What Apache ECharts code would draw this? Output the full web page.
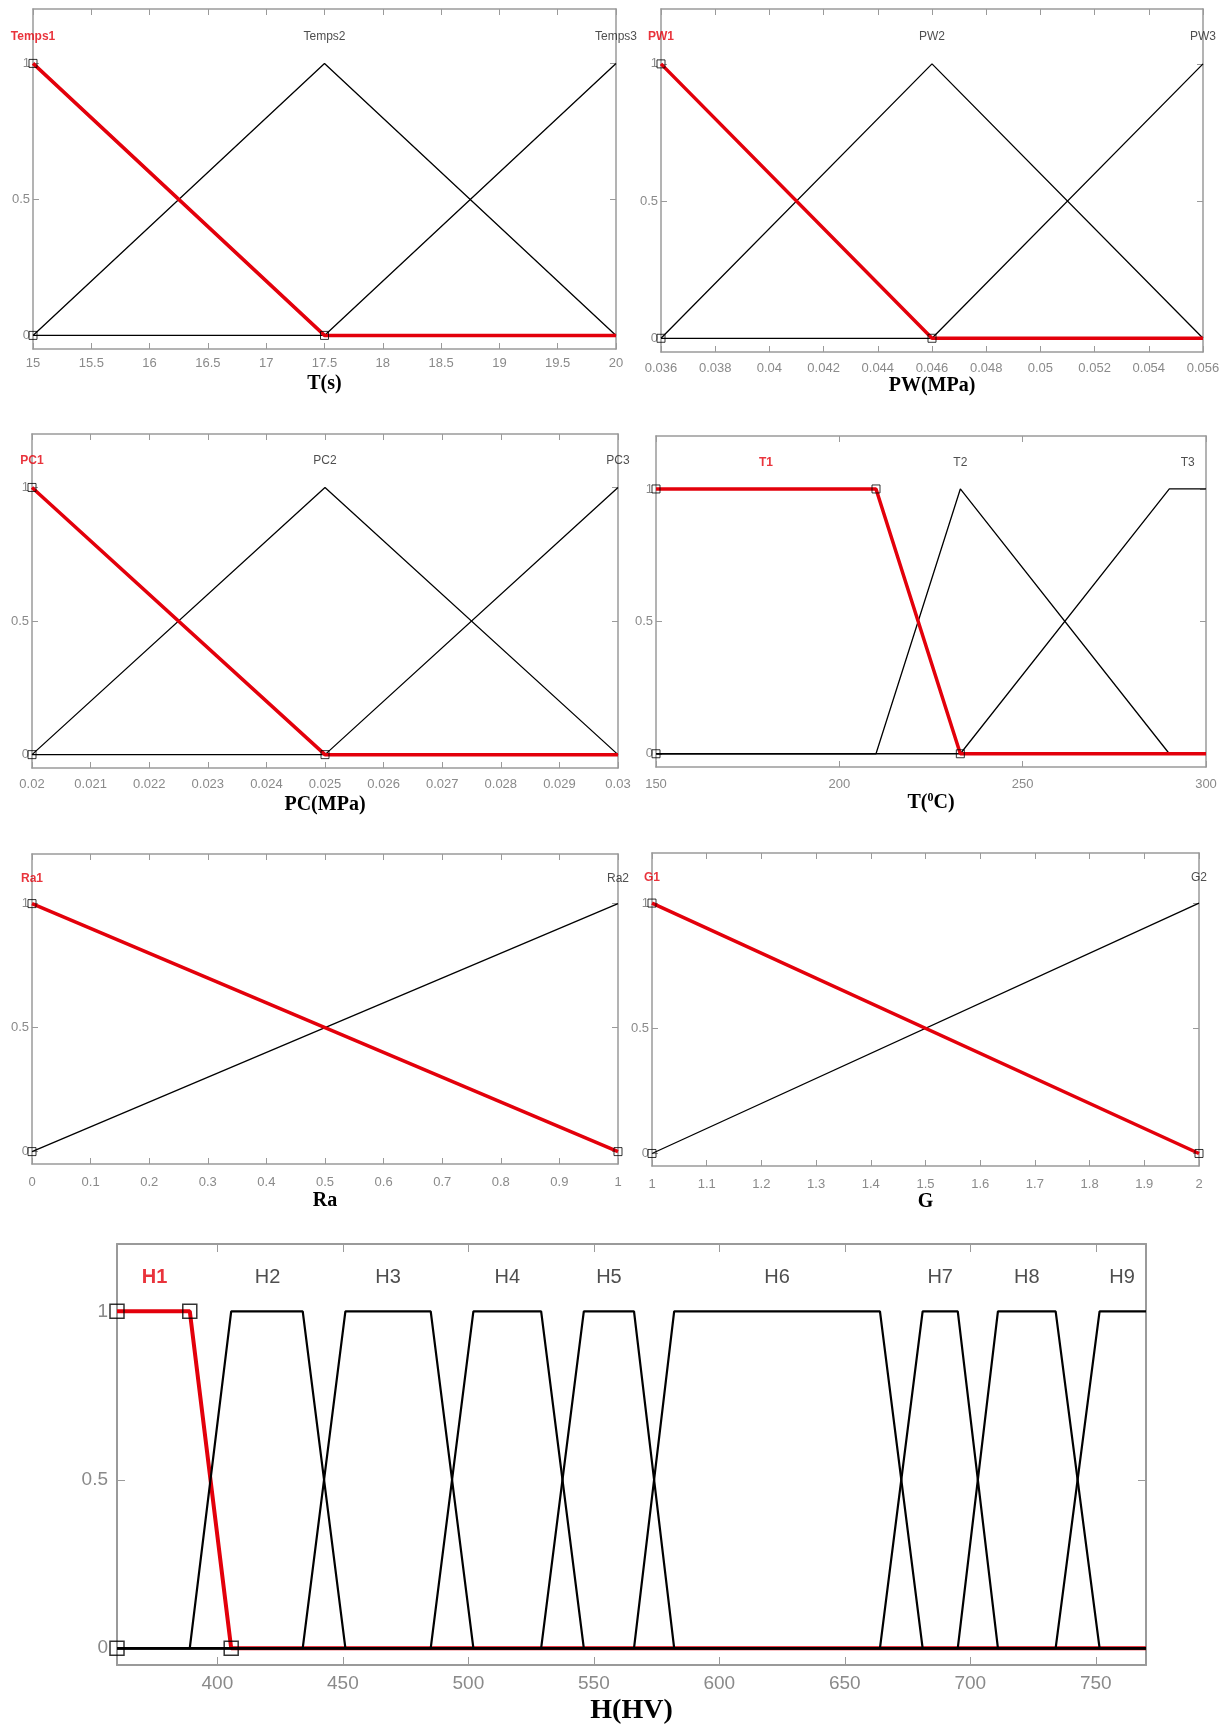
<!DOCTYPE html>
<html><head><meta charset="utf-8">
<script src="https://cdn.jsdelivr.net/npm/echarts@6/dist/echarts.min.js"></script>
<style>html,body{margin:0;padding:0;background:#fff}#c{width:1225px;height:1728px}</style>
</head><body><div id="c"></div>
<script>
// ================= DATA =================
const yTicks = [0, 0.5, 1];
const mfLabelLevel = 1.1;

// Panel 1 : T(s)
const tsX = [15, 17.5, 20];
const temps1 = [1, 0, 0];
const temps2 = [0, 1, 0];
const temps3 = [0, 0, 1];
const tsTicks = [15, 15.5, 16, 16.5, 17, 17.5, 18, 18.5, 19, 19.5, 20];
const tsNames = ['Temps1', 'Temps2', 'Temps3'];
const tsNameX = [15, 17.5, 20];
const tsHandles = [[15, 1], [15, 0], [17.5, 0]];

// Panel 2 : PW(MPa)
const pwX = [0.036, 0.046, 0.056];
const pw1 = [1, 0, 0];
const pw2 = [0, 1, 0];
const pw3 = [0, 0, 1];
const pwTicks = [0.036, 0.038, 0.04, 0.042, 0.044, 0.046, 0.048, 0.05, 0.052, 0.054, 0.056];
const pwNames = ['PW1', 'PW2', 'PW3'];
const pwNameX = [0.036, 0.046, 0.056];
const pwHandles = [[0.036, 1], [0.036, 0], [0.046, 0]];

// Panel 3 : PC(MPa)
const pcX = [0.02, 0.025, 0.03];
const pc1 = [1, 0, 0];
const pc2 = [0, 1, 0];
const pc3 = [0, 0, 1];
const pcTicks = [0.02, 0.021, 0.022, 0.023, 0.024, 0.025, 0.026, 0.027, 0.028, 0.029, 0.03];
const pcNames = ['PC1', 'PC2', 'PC3'];
const pcNameX = [0.02, 0.025, 0.03];
const pcHandles = [[0.02, 1], [0.02, 0], [0.025, 0]];

// Panel 4 : T(oC)
const tcX = [150, 210, 233, 290, 300];
const t1 = [1, 1, 0, 0, 0];
const t2 = [0, 0, 1, 0, 0];
const t3 = [0, 0, 0, 1, 1];
const tcTicks = [150, 200, 250, 300];
const tcNames = ['T1', 'T2', 'T3'];
const tcNameX = [180, 233, 295];
const tcHandles = [[150, 1], [150, 0], [210, 1], [233, 0]];

// Panel 5 : Ra
const raX = [0, 1];
const ra1 = [1, 0];
const ra2 = [0, 1];
const raTicks = [0, 0.1, 0.2, 0.3, 0.4, 0.5, 0.6, 0.7, 0.8, 0.9, 1];
const raNames = ['Ra1', 'Ra2'];
const raNameX = [0, 1];
const raHandles = [[0, 1], [0, 0], [1, 0]];

// Panel 6 : G
const gX = [1, 2];
const g1 = [1, 0];
const g2 = [0, 1];
const gTicks = [1, 1.1, 1.2, 1.3, 1.4, 1.5, 1.6, 1.7, 1.8, 1.9, 2];
const gNames = ['G1', 'G2'];
const gNameX = [1, 2];
const gHandles = [[1, 1], [1, 0], [2, 0]];

// Panel 7 : H(HV)
const hX = [360, 389, 405.5, 434, 451, 485, 502, 529, 546, 566, 582, 664, 681, 695, 711, 734, 751.5, 770];
const h1 = [1, 1, 0, 0, 0, 0, 0, 0, 0, 0, 0, 0, 0, 0, 0, 0, 0, 0];
const h2 = [0, 0, 1, 1, 0, 0, 0, 0, 0, 0, 0, 0, 0, 0, 0, 0, 0, 0];
const h3 = [0, 0, 0, 0, 1, 1, 0, 0, 0, 0, 0, 0, 0, 0, 0, 0, 0, 0];
const h4 = [0, 0, 0, 0, 0, 0, 1, 1, 0, 0, 0, 0, 0, 0, 0, 0, 0, 0];
const h5 = [0, 0, 0, 0, 0, 0, 0, 0, 1, 1, 0, 0, 0, 0, 0, 0, 0, 0];
const h6 = [0, 0, 0, 0, 0, 0, 0, 0, 0, 0, 1, 1, 0, 0, 0, 0, 0, 0];
const h7 = [0, 0, 0, 0, 0, 0, 0, 0, 0, 0, 0, 0, 1, 1, 0, 0, 0, 0];
const h8 = [0, 0, 0, 0, 0, 0, 0, 0, 0, 0, 0, 0, 0, 0, 1, 1, 0, 0];
const h9 = [0, 0, 0, 0, 0, 0, 0, 0, 0, 0, 0, 0, 0, 0, 0, 0, 1, 1];
const hTicks = [400, 450, 500, 550, 600, 650, 700, 750];
const hNames = ['H1', 'H2', 'H3', 'H4', 'H5', 'H6', 'H7', 'H8', 'H9'];
const hNameX = [375, 420, 468, 515.5, 556, 623, 688, 722.5, 760.5];
const hHandles = [[360, 1], [360, 0], [389, 1], [405.5, 0]];

// ================= PANELS (structure only) =================
const panels = [
  { x: tsX, mfs: [temps1, temps2, temps3], min: 15, max: 20, ticks: tsTicks, names: tsNames, nameX: tsNameX, handles: tsHandles, title: 'T(s)' },
  { x: pwX, mfs: [pw1, pw2, pw3], min: 0.036, max: 0.056, ticks: pwTicks, names: pwNames, nameX: pwNameX, handles: pwHandles, title: 'PW(MPa)' },
  { x: pcX, mfs: [pc1, pc2, pc3], min: 0.02, max: 0.03, ticks: pcTicks, names: pcNames, nameX: pcNameX, handles: pcHandles, title: 'PC(MPa)' },
  { x: tcX, mfs: [t1, t2, t3], min: 150, max: 300, ticks: tcTicks, names: tcNames, nameX: tcNameX, handles: tcHandles, title: 'T({sup|0}C)' },
  { x: raX, mfs: [ra1, ra2], min: 0, max: 1, ticks: raTicks, names: raNames, nameX: raNameX, handles: raHandles, title: 'Ra' },
  { x: gX, mfs: [g1, g2], min: 1, max: 2, ticks: gTicks, names: gNames, nameX: gNameX, handles: gHandles, title: 'G' },
  { x: hX, mfs: [h1, h2, h3, h4, h5, h6, h7, h8, h9], min: 360, max: 770, ticks: hTicks, names: hNames, nameX: hNameX, handles: hHandles, title: 'H(HV)' }
];

// ================= LAYOUT / STYLE =================
const layout = [
  { left: 33, top: 9, width: 583, height: 340, gap: 35, lblMargin: 8, big: false },
  { left: 661, top: 9, width: 542, height: 343, gap: 33, lblMargin: 10, big: false },
  { left: 32, top: 434, width: 586, height: 334, gap: 37, lblMargin: 10, big: false },
  { left: 656, top: 436, width: 550, height: 331, gap: 35, lblMargin: 11, big: false },
  { left: 32, top: 854, width: 586, height: 310, gap: 37, lblMargin: 12, big: false },
  { left: 652, top: 853, width: 547, height: 313, gap: 35, lblMargin: 12, big: false },
  { left: 117, top: 1244, width: 1029, height: 421, gap: 46, lblMargin: 9, big: true }
];
const RED = '#e3000b';
const BOX = '#9a9a9a';
const LBL = '#8a8a8a';
const SANS = '"Liberation Sans", Arial, sans-serif';
const NARROW = '"Liberation Sans Narrow", "Liberation Sans", Arial, sans-serif';
const SERIF = '"Liberation Serif", "Times New Roman", serif';

const grid = [], xAxis = [], yAxis = [], series = [];
panels.forEach((p, i) => {
  const L = layout[i];
  const big = L.big;
  grid.push({ left: L.left, top: L.top, width: L.width, height: L.height });
  const tickLen = big ? 8 : 6;
  const boxW = big ? 2 : 1.5;
  const tickFont = big ? 19 : 13;
  xAxis.push({
    type: 'value', gridIndex: i, min: p.min, max: p.max, position: 'bottom',
    axisLine: { onZero: false, lineStyle: { color: BOX, width: boxW } },
    axisTick: { inside: true, length: tickLen, customValues: p.ticks, lineStyle: { color: BOX, width: 1 } },
    axisLabel: { customValues: p.ticks, margin: L.lblMargin, color: LBL, fontSize: tickFont, fontFamily: big ? SANS : NARROW },
    splitLine: { show: false },
    name: p.title, nameLocation: 'middle', nameGap: L.gap,
    nameTextStyle: {
      fontFamily: SERIF, fontWeight: 'bold', fontSize: big ? 28 : 20, color: '#000', verticalAlign: 'middle',
      rich: { sup: { fontFamily: SERIF, fontWeight: 'bold', fontSize: 12, color: '#000', padding: [0, 0, 10, 0] } }
    }
  });
  xAxis.push({
    type: 'value', gridIndex: i, min: p.min, max: p.max, position: 'top',
    axisLine: { onZero: false, lineStyle: { color: BOX, width: boxW } },
    axisTick: { inside: true, length: tickLen, customValues: p.ticks, lineStyle: { color: BOX, width: 1 } },
    axisLabel: { show: false }, splitLine: { show: false }
  });
  yAxis.push({
    type: 'value', gridIndex: i, min: -0.05, max: 1.2, position: 'left',
    axisLine: { show: true, onZero: false, lineStyle: { color: BOX, width: boxW } },
    axisTick: { show: true, inside: true, length: tickLen, customValues: yTicks, lineStyle: { color: BOX, width: 1 } },
    axisLabel: { customValues: yTicks, margin: big ? 9 : 3, color: LBL, fontSize: tickFont, fontFamily: big ? SANS : NARROW },
    splitLine: { show: false }
  });
  yAxis.push({
    type: 'value', gridIndex: i, min: -0.05, max: 1.2, position: 'right',
    axisLine: { show: true, onZero: false, lineStyle: { color: BOX, width: boxW } },
    axisTick: { show: true, inside: true, length: tickLen, customValues: yTicks, lineStyle: { color: BOX, width: 1 } },
    axisLabel: { show: false }, splitLine: { show: false }
  });
  const xi = 2 * i, yi = 2 * i;
  p.mfs.forEach((vals, k) => {
    const sel = k === 0;
    series.push({
      type: 'line', xAxisIndex: xi, yAxisIndex: yi, symbol: 'none', clip: false, silent: true,
      data: p.x.map((x, j) => [x, vals[j]]),
      lineStyle: { color: sel ? RED : '#000', width: sel ? (big ? 4 : 3.5) : (big ? 2.2 : 1.3) },
      z: sel ? (big ? 2 : 5) : 3
    });
  });
  // MF names
  series.push({
    type: 'scatter', xAxisIndex: xi, yAxisIndex: yi, symbolSize: 1, clip: false, silent: true,
    itemStyle: { color: 'rgba(0,0,0,0)' },
    data: p.names.map((n, k) => ({
      value: [p.nameX[k], mfLabelLevel],
      label: { show: true, position: 'inside', formatter: n, color: k === 0 ? RED : '#222',
        fontSize: big ? 20 : 12, fontFamily: SANS, fontWeight: k === 0 ? 'bold' : 'normal' }
    })),
    z: 6
  });
  // selection handles
  series.push({
    type: 'scatter', xAxisIndex: xi, yAxisIndex: yi, symbol: 'rect', symbolSize: big ? 14 : 8, clip: false, silent: true,
    itemStyle: { color: 'rgba(0,0,0,0)', borderColor: '#000', borderWidth: big ? 1.5 : 1 },
    data: p.handles, z: 7
  });
});

const chart = echarts.init(document.getElementById('c'), null, { renderer: 'canvas' });
chart.setOption({ animation: false, backgroundColor: '#fff', grid, xAxis, yAxis, series });
</script>
</body></html>
